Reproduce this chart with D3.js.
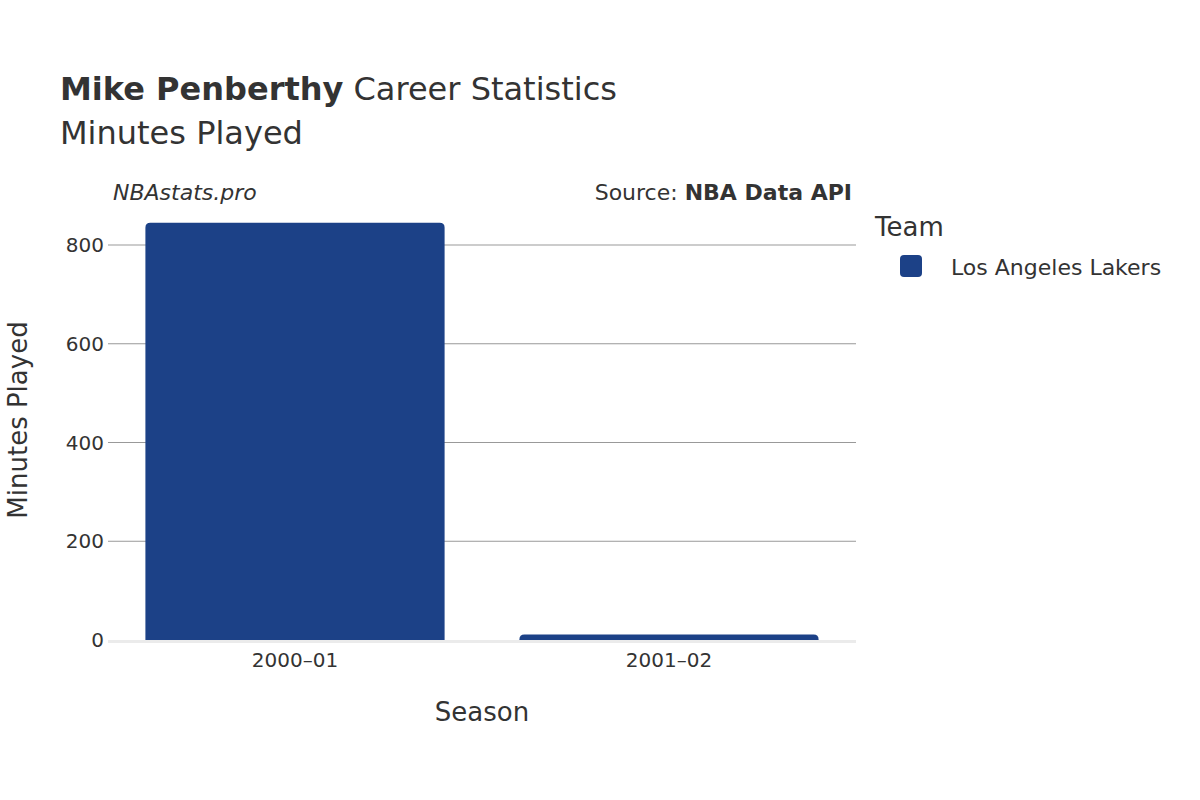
<!DOCTYPE html>
<html><head><meta charset="utf-8">
<script src="https://cdn.jsdelivr.net/npm/d3@7"></script>
<style>body{margin:0;background:#fff}text{font-family:"DejaVu Sans",sans-serif;fill:#333}</style>
</head><body><svg id="c" width="1200" height="800"></svg>
<script>
const seasons = ["2000–01", "2001–02"];
const minutes = [845, 11];
const yTicks = [0, 200, 400, 600, 800];
const teamName = "Los Angeles Lakers";
const color = "#1c4187";

const svg = d3.select("#c");
const x = d3.scaleBand().domain(seasons).range([108, 856]).paddingInner(0.2).paddingOuter(0.1);
const y = d3.scaleLinear().domain([0, 800]).range([640, 245]);

const g = svg.append("g");
yTicks.filter(t => t > 0).forEach(t => {
  g.append("line").attr("x1", 108).attr("x2", 856).attr("y1", y(t)).attr("y2", y(t)).attr("stroke", "#999").attr("stroke-width", 1);
});
g.append("line").attr("x1", 108).attr("x2", 856).attr("y1", y(0) + 1.5).attr("y2", y(0) + 1.5).attr("stroke", "#ebebeb").attr("stroke-width", 3);

seasons.forEach((s, i) => {
  const x0 = x(s), w = x.bandwidth(), top = y(minutes[i]), h = y(0) - top, r = Math.min(5, h);
  g.append("path").attr("fill", color)
    .attr("d", `M${x0},${y(0)}V${top + r}Q${x0},${top} ${x0 + r},${top}H${x0 + w - r}Q${x0 + w},${top} ${x0 + w},${top + r}V${y(0)}Z`);
});

yTicks.forEach(t => {
  svg.append("text").attr("x", 104).attr("y", y(t)).attr("dy", "0.35em").attr("text-anchor", "end").attr("font-size", 20).text(t);
});
seasons.forEach(s => {
  svg.append("text").attr("x", x(s) + x.bandwidth() / 2).attr("y", 667).attr("text-anchor", "middle").attr("font-size", 20).text(s);
});

svg.append("text").attr("x", 482).attr("y", 721).attr("text-anchor", "middle").attr("font-size", 26).text("Season");
svg.append("text").attr("transform", "translate(27,420) rotate(-90)").attr("text-anchor", "middle").attr("font-size", 26).text("Minutes Played");

const t1 = svg.append("text").attr("x", 60).attr("y", 100).attr("font-size", 32);
t1.append("tspan").attr("font-weight", "bold").text("Mike Penberthy");
t1.append("tspan").text(" Career Statistics");
svg.append("text").attr("x", 60).attr("y", 144).attr("font-size", 32).text("Minutes Played");

svg.append("text").attr("x", 113).attr("y", 200).attr("font-size", 22).attr("font-style", "italic").text("NBAstats.pro");
const src = svg.append("text").attr("x", 852).attr("y", 200).attr("font-size", 22).attr("text-anchor", "end");
src.append("tspan").text("Source: ");
src.append("tspan").attr("font-weight", "bold").text("NBA Data API");

svg.append("text").attr("x", 875).attr("y", 236).attr("font-size", 26).text("Team");
svg.append("rect").attr("x", 900).attr("y", 255).attr("width", 22).attr("height", 22).attr("rx", 4).attr("fill", color);
svg.append("text").attr("x", 951).attr("y", 275).attr("font-size", 22).text(teamName);
</script></body></html>
